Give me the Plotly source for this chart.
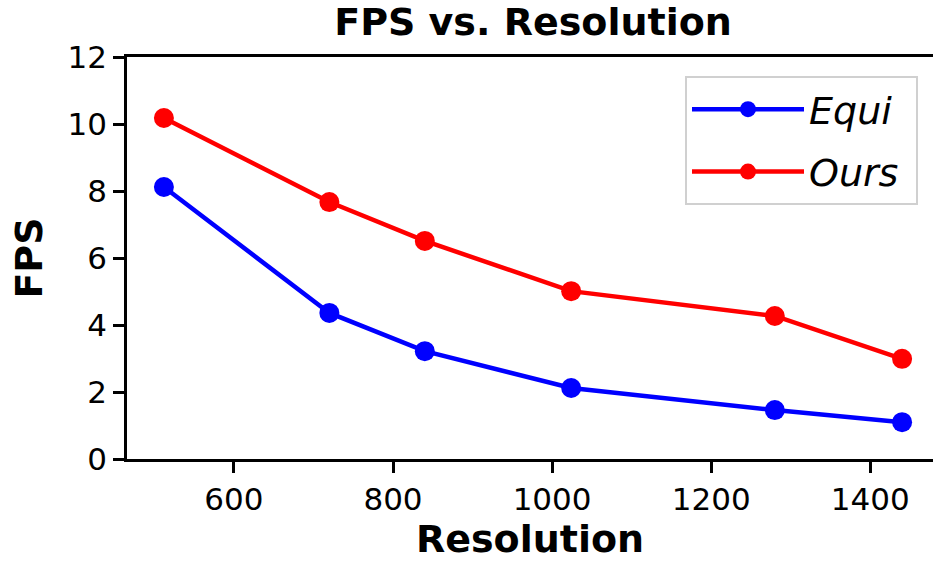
import plotly.graph_objects as go

resolution = [512, 720, 840, 1024, 1280, 1440]
fps_equi = [8.12, 4.36, 3.22, 2.12, 1.46, 1.10]
fps_ours = [10.18, 7.67, 6.51, 5.01, 4.27, 2.99]
series_names = ["Equi\u00a0", "Ours\u00a0"]
x_ticks = [600, 800, 1000, 1200, 1400]
y_ticks = [0, 2, 4, 6, 8, 10, 12]

FONT = "DejaVu Sans"
W, H = 933, 561
L, T = 127, 57
PB = 459                 # bottom of plot area
B = H - PB
# matplotlib axes would end at x=939 px (beyond the cropped picture); show up to 933
X0, PX_PER_UNIT = 465.6, (939 - 127) / (1486.4 - 465.6)
X1 = X0 + (W - L) / PX_PER_UNIT

fig = go.Figure()
for name, vals, col, grp in [(series_names[0], fps_equi, "#0000ff", "a"),
                             (series_names[1], fps_ours, "#ff0000", "b")]:
    fig.add_trace(go.Scatter(
        x=resolution, y=vals, name=name, mode="lines+markers",
        legendgroup=grp,
        line=dict(color=col, width=4.5),
        marker=dict(color=col, size=20, line=dict(width=0)),
    ))

axis_common = dict(
    showgrid=False, zeroline=False, showline=True, linecolor="black", linewidth=2.6,
    ticks="outside", ticklen=11, tickwidth=2.6, tickcolor="black",
    tickfont=dict(family=FONT, size=31, color="black"),
    automargin=False,
)

fig.update_layout(
    width=W, height=H,
    margin=dict(l=L, r=0, t=T, b=B, pad=0, autoexpand=False),
    paper_bgcolor="white", plot_bgcolor="white",
    title=dict(text="<b>FPS vs. Resolution</b>", x=533 / W, xref="container",
               y=1 - 22 / H, yref="container", xanchor="center", yanchor="middle",
               font=dict(family=FONT, size=38, color="black"), automargin=False),
    xaxis=dict(range=[X0, X1], tickvals=x_ticks, mirror=True,
               title=dict(text="<b>Resolution</b>", standoff=16,
                          font=dict(family=FONT, size=38, color="black")),
               **axis_common),
    yaxis=dict(range=[0, 12], tickvals=y_ticks, mirror=False,
               title=dict(text="<b>FPS</b>", standoff=14,
                          font=dict(family=FONT, size=38, color="black")),
               **axis_common),
    legend=dict(x=(918 - L) / (W - L), y=(PB - 76) / (PB - T),
                xanchor="right", yanchor="top",
                bgcolor="white", bordercolor="#d0d0d0", borderwidth=2,
                font=dict(family=FONT, size=38, color="black", style="italic"),
                itemwidth=112, tracegroupgap=10),
    showlegend=True,
)

fig.write_html(
    "out.html",
    config={"displayModeBar": False},
    post_script="document.body.style.margin='0';document.body.style.overflow='hidden';",
)
